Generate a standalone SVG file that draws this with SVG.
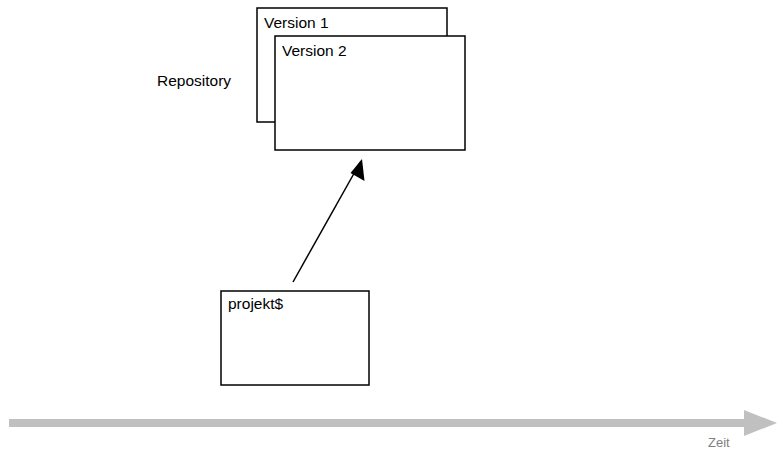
<svg xmlns="http://www.w3.org/2000/svg" width="777" height="449" viewBox="0 0 777 449">
<defs>
<style>
.box{fill:#fff;stroke:#000;stroke-width:1.5}
.t{font-family:"Liberation Sans",Arial,sans-serif;font-size:15.5px;fill:#000}
.z{font-family:"Liberation Sans",Arial,sans-serif;font-size:13px;fill:#808080}
</style>
</defs>
<rect width="777" height="449" fill="#fff"/>
<g id="repository-label"><text class="t" x="157" y="86">Repository</text></g>
<g id="version1"><rect class="box" x="257" y="8" width="190" height="114"/><text class="t" x="264" y="28">Version 1</text></g>
<g id="version2"><rect class="box" x="275" y="36" width="190" height="114"/><text class="t" x="282" y="56">Version 2</text></g>
<g id="projekt"><rect class="box" x="221" y="291" width="148" height="94"/><text class="t" x="228" y="309">projekt$</text></g>
<g id="connectors">
<line x1="293" y1="282" x2="361" y2="161" stroke="#000" stroke-width="1.5"/>
<path d="M362,159 L364.5,181 L350.5,173 Z" fill="#000"/>
</g>
<g id="timeline">
<rect x="9" y="419" width="737" height="8" fill="#c0c0c0"/>
<path d="M744,410 L777,423 L744,436 Z" fill="#c0c0c0"/>
<text class="z" x="708" y="447">Zeit</text>
</g>
</svg>
